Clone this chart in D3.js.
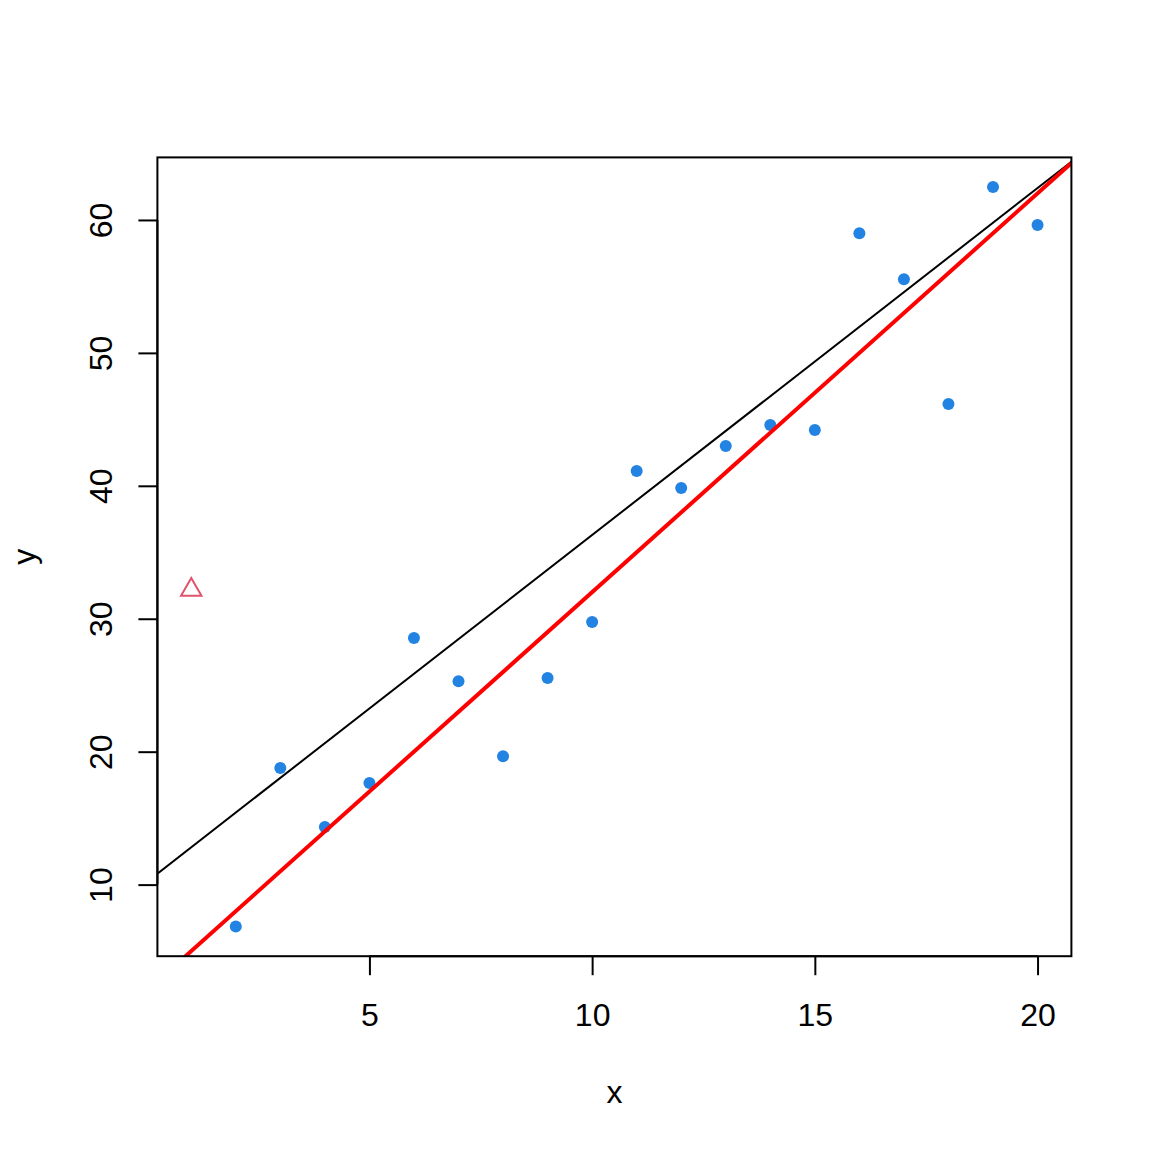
<!DOCTYPE html>
<html lang="en">
    <head>
        <meta charset="utf-8">
        <title>x vs y</title>
        <script type="text/javascript" src="https://cdn.jsdelivr.net/npm/d3@7"></script>
        <style>
            body { margin: 0; background: white; }
        </style>
    </head>
    <body>
        <script type="text/javascript">
            // data
            var xs = [2, 3, 4, 5, 6, 7, 8, 9, 10, 11, 12, 13, 14, 15, 16, 17, 18, 19, 20];
            var ys = [6.84, 18.78, 14.34, 17.65, 28.56, 25.30, 19.66, 25.55, 29.75, 41.11,
                      39.83, 42.99, 44.57, 44.20, 59.00, 55.54, 46.15, 62.48, 59.62];
            var outlier = [1, 32.17];
            var xTicks = [5, 10, 15, 20];
            var yTicks = [10, 20, 30, 40, 50, 60];
            // abline(a, b)
            var fitLine = [10.2, 2.61];
            var trueLine = [2, 3];

            var w = 1152;
            var h = 1152;
            // plot region (note: "top" is taken by window.top)
            var pLeft = 157.4, pRight = 1071.4, pTop = 157.4, pBottom = 956.2;

            // R style axis range: data range extended by 4% each side
            var allX = xs.concat([outlier[0]]);
            var allY = ys.concat([outlier[1]]);
            var xr = d3.extent(allX), yr = d3.extent(allY);
            var xPad = (xr[1] - xr[0]) * 0.04, yPad = (yr[1] - yr[0]) * 0.04;

            var x = d3.scaleLinear()
                .domain([xr[0] - xPad, xr[1] + xPad])
                .range([pLeft, pRight]);
            var y = d3.scaleLinear()
                .domain([yr[0] - yPad, yr[1] + yPad])
                .range([pBottom, pTop]);

            var font = "'Liberation Sans', Arial, sans-serif";

            var svg = d3.select("body").append("svg")
                .attr("width", w)
                .attr("height", h);

            svg.append("defs").append("clipPath")
                .attr("id", "plotclip")
                .append("rect")
                .attr("x", pLeft)
                .attr("y", pTop)
                .attr("width", pRight - pLeft)
                .attr("height", pBottom - pTop);

            // axes
            var xAxis = d3.axisBottom(x).tickValues(xTicks).tickSize(19).tickSizeOuter(0);
            var gx = svg.append("g")
                .attr("transform", "translate(0," + pBottom + ")")
                .call(xAxis);
            gx.select(".domain")
                .attr("d", "M" + x(xTicks[0]) + ",0H" + x(xTicks[xTicks.length - 1]));
            gx.selectAll("line").attr("stroke-width", 2);
            gx.selectAll(".domain").attr("stroke-width", 2);
            gx.selectAll("text")
                .attr("y", 70)
                .attr("dy", null)
                .attr("font-family", font)
                .attr("font-size", "32px")
                .attr("fill", "black");

            var yAxis = d3.axisLeft(y).tickValues(yTicks).tickSize(19).tickSizeOuter(0);
            var gy = svg.append("g")
                .attr("transform", "translate(" + pLeft + ",0)")
                .call(yAxis);
            gy.select(".domain")
                .attr("d", "M0," + y(yTicks[0]) + "V" + y(yTicks[yTicks.length - 1]));
            gy.selectAll("line").attr("stroke-width", 2);
            gy.selectAll(".domain").attr("stroke-width", 2);
            gy.selectAll("text")
                .attr("x", null)
                .attr("dy", null)
                .attr("transform", "translate(" + (112 - pLeft) + ",0) rotate(-90)")
                .attr("text-anchor", "middle")
                .attr("font-family", font)
                .attr("font-size", "32px")
                .attr("fill", "black");

            // axis titles
            svg.append("text")
                .text("x")
                .attr("x", (pLeft + pRight) / 2)
                .attr("y", 1103)
                .attr("text-anchor", "middle")
                .attr("font-family", font)
                .attr("font-size", "32px");
            svg.append("text")
                .text("y")
                .attr("transform", "translate(35," + (pTop + pBottom) / 2 + ") rotate(-90)")
                .attr("text-anchor", "middle")
                .attr("font-family", font)
                .attr("font-size", "32px");

            // points
            var plot = svg.append("g").attr("clip-path", "url(#plotclip)");
            plot.selectAll("circle")
                .data(xs)
                .enter()
                .append("circle")
                .attr("cx", function(d) { return x(d); })
                .attr("cy", function(d, i) { return y(ys[i]); })
                .attr("r", 6)
                .attr("fill", "#2283E2");

            // outlier, pch = 2 triangle
            var r = 11.8;
            var ox = x(outlier[0]), oy = y(outlier[1]);
            plot.append("path")
                .attr("d", "M" + ox + "," + (oy - r) +
                           "L" + (ox + r * 0.866) + "," + (oy + r / 2) +
                           "L" + (ox - r * 0.866) + "," + (oy + r / 2) + "Z")
                .attr("fill", "none")
                .attr("stroke", "#DF536B")
                .attr("stroke-width", 2);

            // lines
            function abline(coef) {
                var x0 = x.domain()[0], x1 = x.domain()[1];
                return [[x(x0), y(coef[0] + coef[1] * x0)], [x(x1), y(coef[0] + coef[1] * x1)]];
            }
            plot.append("path")
                .attr("d", d3.line()(abline(fitLine)))
                .attr("stroke", "black")
                .attr("stroke-width", 2)
                .attr("fill", "none");
            plot.append("path")
                .attr("d", d3.line()(abline(trueLine)))
                .attr("stroke", "#FF0000")
                .attr("stroke-width", 4)
                .attr("fill", "none");

            // box
            svg.append("rect")
                .attr("x", pLeft)
                .attr("y", pTop)
                .attr("width", pRight - pLeft)
                .attr("height", pBottom - pTop)
                .attr("fill", "none")
                .attr("stroke", "black")
                .attr("stroke-width", 2);
        </script>
    </body>
</html>
